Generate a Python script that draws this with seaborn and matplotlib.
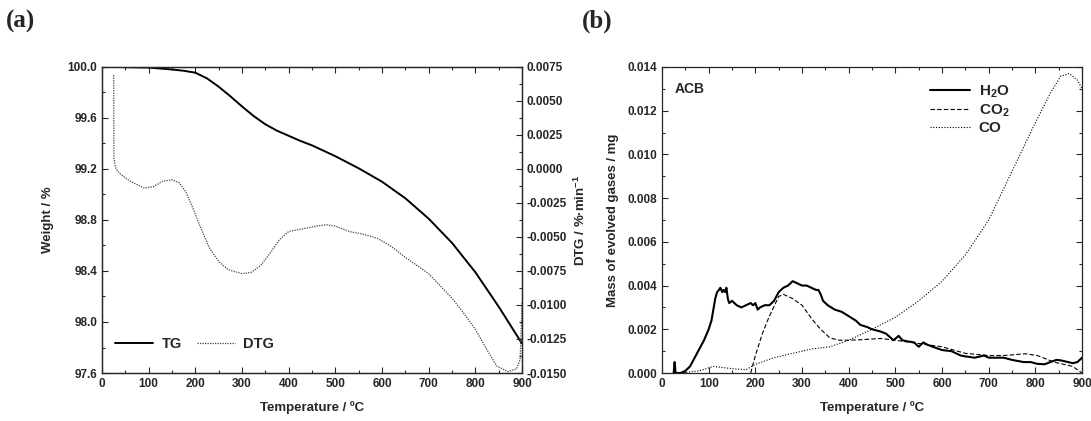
import matplotlib
matplotlib.use("Agg")
import matplotlib.pyplot as plt
import seaborn as sns
import pandas as pd
from matplotlib.ticker import MultipleLocator, FormatStrFormatter
from matplotlib.lines import Line2D

# ---- panel (a): TG / DTG ----
tg_temp = [25, 100, 150, 175, 200, 225, 250, 275, 300, 325, 350, 375, 400,
           425, 450, 500, 550, 600, 650, 700, 750, 800, 850, 900]
tg_weight = [100.0, 99.995, 99.98, 99.97, 99.955, 99.91, 99.845, 99.77, 99.69,
             99.615, 99.55, 99.50, 99.46, 99.42, 99.385, 99.30, 99.205, 99.10,
             98.97, 98.81, 98.62, 98.39, 98.12, 97.83]

dtg_temp = [25, 25.5, 28, 30, 40, 60, 90, 110, 130, 150, 165, 180, 195, 210,
            230, 250, 270, 300, 320, 340, 360, 380, 400, 430, 460, 480, 500,
            530, 560, 590, 620, 650, 700, 725, 750, 775, 800, 825, 846, 870,
            888, 896, 900]
dtg_value = [0.0069, 0.0008, 0.0003, 0.0, -0.0004, -0.0009, -0.0014, -0.0013,
             -0.0009, -0.0008, -0.0010, -0.0017, -0.0029, -0.0042, -0.0058,
             -0.0068, -0.0074, -0.0077, -0.0076, -0.0071, -0.0062, -0.0052,
             -0.0046, -0.0044, -0.0042, -0.0041, -0.0042, -0.0046, -0.0048,
             -0.0051, -0.0057, -0.0065, -0.0077, -0.0086, -0.0095, -0.0106,
             -0.0118, -0.0133, -0.0145, -0.0149, -0.0147, -0.0140, -0.0098]

# ---- panel (b): evolved gases ----
h2o_temp = [25, 27, 29, 40, 50, 60, 70, 80, 90, 100, 106, 110, 114, 118, 122,
            125, 129, 132, 135, 138, 141, 144, 150, 160, 170, 180, 190, 195,
            200, 205, 210, 220, 230, 240, 250, 260, 270, 280, 290, 300, 310,
            320, 330, 335, 340, 345, 355, 370, 385, 400, 415, 425, 440, 450,
            468, 480, 496, 507, 515, 525, 540, 550, 560, 568, 580, 600, 620,
            640, 650, 670, 690, 700, 715, 732, 750, 775, 790, 804, 820, 832,
            845, 854, 870, 880, 890, 900]
h2o_mass = [0.0, 0.0005, 0.0, 0.0, 0.0001, 0.0003, 0.0007, 0.0011, 0.0015,
            0.0020, 0.0024, 0.0029, 0.0034, 0.0037, 0.0038, 0.0039, 0.0037,
            0.0038, 0.0037, 0.0039, 0.0034, 0.0032, 0.0033, 0.0031, 0.0030,
            0.0031, 0.0032, 0.0031, 0.0032, 0.0029, 0.0030, 0.0031, 0.0031,
            0.0033, 0.0037, 0.0039, 0.0040, 0.0042, 0.0041, 0.0040, 0.0040,
            0.0039, 0.0038, 0.0038, 0.0036, 0.0033, 0.0031, 0.0029, 0.0028,
            0.0026, 0.0024, 0.0022, 0.0021, 0.0020, 0.0019, 0.0018, 0.0015,
            0.0017, 0.0015, 0.00145, 0.0014, 0.0012, 0.0014, 0.0013, 0.0012,
            0.00105, 0.0010, 0.0008, 0.00076, 0.0007, 0.0008, 0.0007, 0.0007,
            0.0007, 0.0006, 0.0005, 0.0005, 0.00042, 0.0004, 0.0005, 0.0006,
            0.00058, 0.0005, 0.00045, 0.0005, 0.0007]

co2_temp = [190, 200, 215, 230, 250, 260, 280, 300, 320, 340, 360, 380, 400,
            425, 468, 500, 600, 650, 700, 732, 779, 804, 840, 880, 900]
co2_mass = [0.0, 0.0008, 0.0018, 0.0026, 0.0035, 0.0036, 0.0034, 0.0031,
            0.0025, 0.0020, 0.0016, 0.0015, 0.0015, 0.00152, 0.00158, 0.0015,
            0.0012, 0.0009, 0.0008, 0.0008, 0.00088, 0.0008, 0.0005, 0.0003,
            0.0]

co_temp = [40, 80, 110, 150, 180, 200, 240, 280, 320, 360, 400, 425, 450,
           500, 550, 600, 650, 700, 746, 796, 832, 854, 872, 890, 900]
co_mass = [0.0, 0.0001, 0.0003, 0.0002, 0.00015, 0.0004, 0.0007, 0.0009,
           0.0011, 0.0012, 0.0015, 0.00175, 0.0020, 0.00255, 0.0033, 0.0042,
           0.0054, 0.0070, 0.00905, 0.01128, 0.0128, 0.01357, 0.0137, 0.0134,
           0.0130]

sns.set_style("ticks")
plt.rcParams["font.family"] = ["Liberation Sans", "DejaVu Sans"]
plt.rcParams["font.weight"] = "bold"
plt.rcParams["axes.labelweight"] = "bold"
plt.rcParams["mathtext.fontset"] = "custom"
plt.rcParams["mathtext.rm"] = "Liberation Sans:bold"
plt.rcParams["mathtext.default"] = "regular"
plt.rcParams["xtick.direction"] = "in"
plt.rcParams["ytick.direction"] = "in"

fig = plt.figure(figsize=(10.91, 4.21), dpi=100)
ax1 = fig.add_axes([0.0935, 0.114, 0.385, 0.727])
ax2 = fig.add_axes([0.6068, 0.114, 0.385, 0.727])

tick_fs = 8.5
label_fs = 9.5

# panel a
tg_df = pd.DataFrame({"temp": tg_temp, "weight": tg_weight})
dtg_df = pd.DataFrame({"temp": dtg_temp, "dtg": dtg_value})
sns.lineplot(data=tg_df, x="temp", y="weight", ax=ax1, color="black", lw=1.4,
             estimator=None, sort=False)
ax1r = ax1.twinx()
sns.lineplot(data=dtg_df, x="temp", y="dtg", ax=ax1r, color="#444444", lw=0.9,
             linestyle=(0, (1, 1)), estimator=None, sort=False)

ax1.set_xlim(0, 900)
ax1.set_ylim(97.6, 100.0)
ax1r.set_ylim(-0.015, 0.0075)
ax1.xaxis.set_major_locator(MultipleLocator(100))
ax1.xaxis.set_minor_locator(MultipleLocator(50))
ax1.yaxis.set_major_locator(MultipleLocator(0.4))
ax1.yaxis.set_minor_locator(MultipleLocator(0.2))
ax1.yaxis.set_major_formatter(FormatStrFormatter("%.1f"))
ax1r.yaxis.set_major_locator(MultipleLocator(0.0025))
ax1r.yaxis.set_minor_locator(MultipleLocator(0.00125))
ax1r.yaxis.set_major_formatter(FormatStrFormatter("%.4f"))
ax1.tick_params(axis="both", which="both", top=True, labelsize=tick_fs)
ax1r.tick_params(axis="y", which="both", labelsize=tick_fs)
for a in (ax1, ax1r):
    a.tick_params(which="major", length=4, width=0.8)
    a.tick_params(which="minor", length=2.5, width=0.8)
ax1.set_xlabel("Temperature / ºC", fontsize=label_fs, fontweight="bold", labelpad=8)
ax1.set_ylabel("Weight / %", fontsize=label_fs, fontweight="bold", labelpad=10)
ax1r.set_ylabel("DTG / %·min$^{-1}$", fontsize=label_fs, fontweight="bold", labelpad=4)

handles_a = [Line2D([], [], color="black", lw=1.4),
             Line2D([], [], color="#444444", lw=0.9, linestyle=(0, (1, 1)))]
ax1.legend(handles_a, ["TG", "DTG"], loc="lower left", ncol=2, frameon=False,
           fontsize=10.5, handlelength=2.6, handletextpad=0.6,
           columnspacing=1.0, bbox_to_anchor=(0.0, 0.03))

# panel b
h2o_df = pd.DataFrame({"temp": h2o_temp, "mass": h2o_mass})
co2_df = pd.DataFrame({"temp": co2_temp, "mass": co2_mass})
co_df = pd.DataFrame({"temp": co_temp, "mass": co_mass})
sns.lineplot(data=h2o_df, x="temp", y="mass", ax=ax2, color="black", lw=1.5,
             estimator=None, sort=False, label="H$_2$O")
sns.lineplot(data=co2_df, x="temp", y="mass", ax=ax2, color="black", lw=0.8,
             linestyle=(0, (4, 2)), estimator=None, sort=False, label="CO$_2$")
sns.lineplot(data=co_df, x="temp", y="mass", ax=ax2, color="black", lw=0.8,
             linestyle=(0, (1, 1.5)), estimator=None, sort=False, label="CO")

ax2.set_xlim(0, 900)
ax2.set_ylim(0, 0.014)
ax2.xaxis.set_major_locator(MultipleLocator(100))
ax2.xaxis.set_minor_locator(MultipleLocator(50))
ax2.yaxis.set_major_locator(MultipleLocator(0.002))
ax2.yaxis.set_minor_locator(MultipleLocator(0.001))
ax2.yaxis.set_major_formatter(FormatStrFormatter("%.3f"))
ax2.tick_params(axis="both", which="both", top=True, right=True, labelsize=tick_fs)
ax2.tick_params(which="major", length=4, width=0.8)
ax2.tick_params(which="minor", length=2.5, width=0.8)
ax2.set_xlabel("Temperature / ºC", fontsize=label_fs, fontweight="bold", labelpad=8)
ax2.set_ylabel("Mass of evolved gases / mg", fontsize=label_fs, fontweight="bold", labelpad=6)
ax2.legend(loc="upper right", frameon=False, fontsize=11, handlelength=2.6,
           handletextpad=0.6, labelspacing=0.15, bbox_to_anchor=(0.86, 0.99))
ax2.text(0.03, 0.95, "ACB", transform=ax2.transAxes, fontsize=10,
         fontweight="bold", va="top", ha="left")

for a in (ax1, ax1r, ax2):
    for s in a.spines.values():
        s.set_linewidth(0.9)

fig.text(0.005, 0.95, "(a)", fontsize=18, fontweight="bold",
         family=["Liberation Serif"], va="center", ha="left")
fig.text(0.533, 0.95, "(b)", fontsize=18, fontweight="bold",
         family=["Liberation Serif"], va="center", ha="left")

fig.savefig("out.png", dpi=100)
